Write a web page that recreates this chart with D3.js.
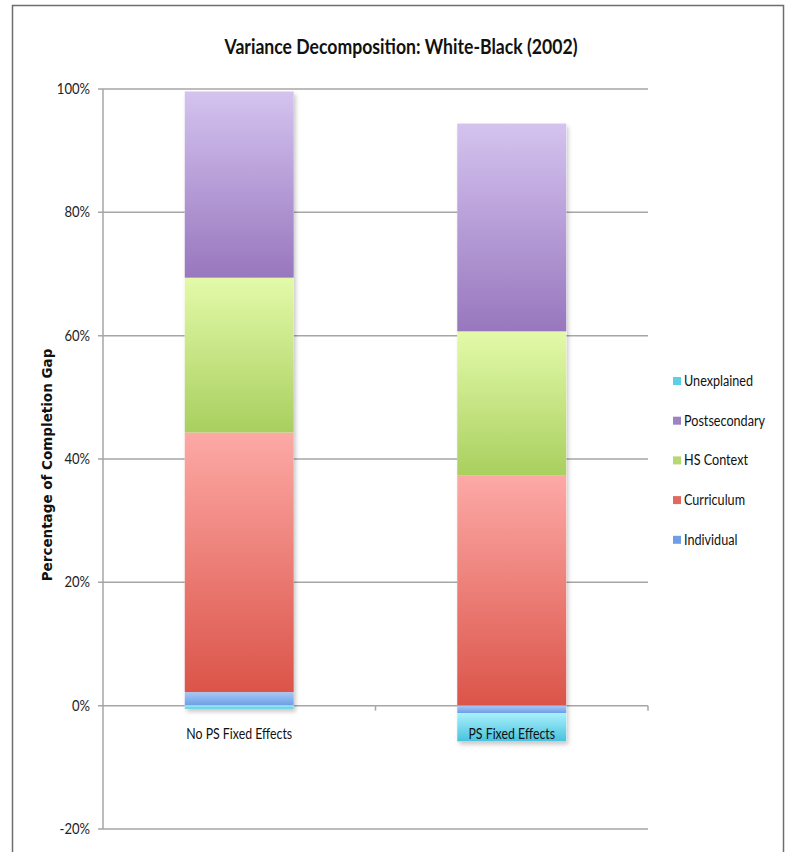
<!DOCTYPE html>
<html>
<head>
<meta charset="utf-8">
<script src="https://cdn.jsdelivr.net/npm/d3@7"></script>
<style>
  html, body { margin: 0; padding: 0; background: #fff; }
  svg { display: block; }
  .narrow { font-family: "Lato", "Liberation Sans", sans-serif; }
</style>
</head>
<body>
<svg id="chart" width="788" height="852"></svg>
<script>
// Decomposition of the White-Black completion gap, in percent
const categories = ["No PS Fixed Effects", "PS Fixed Effects"];
const seriesNames = ["Individual", "Curriculum", "HS Context", "Postsecondary", "Unexplained"];
const individual    = [2.2, -1.2];
const curriculum    = [42.1, 37.3];
const hsContext     = [25.1, 23.4];
const postsecondary = [30.2, 33.7];
const unexplained   = [-0.5, -4.6];
const yTicks = [-20, 0, 20, 40, 60, 80, 100];
const legendOrder = ["Unexplained", "Postsecondary", "HS Context", "Curriculum", "Individual"];

// light (top) and dark (bottom) stop of each series' vertical gradient
const gradStops = {
  "Individual":    ["#a7c8f6", "#6b9ee6"],
  "Curriculum":    ["#fda9a6", "#db5449"],
  "HS Context":    ["#e3faa9", "#a9cf5f"],
  "Postsecondary": ["#d4c3ef", "#9877be"],
  "Unexplained":   ["#a9f0fc", "#48c2dd"]
};
const legendSwatch = {
  "Individual": "#6d9ee6", "Curriculum": "#e06a60", "HS Context": "#b6d872",
  "Postsecondary": "#9d83c4", "Unexplained": "#5cd0e6"
};

const rows = categories.map((c, i) => ({
  category: c,
  "Individual": individual[i],
  "Curriculum": curriculum[i],
  "HS Context": hsContext[i],
  "Postsecondary": postsecondary[i],
  "Unexplained": unexplained[i]
}));

// squeeze text horizontally for a condensed look
function condense(sel, factor) {
  sel.each(function () {
    const w = this.getComputedTextLength();
    d3.select(this).attr("textLength", w * factor).attr("lengthAdjust", "spacingAndGlyphs");
  });
}

const svg = d3.select("#chart");
const defs = svg.append("defs");

const plot = { left: 103, right: 648, top: 89, bottom: 829 };

// outer chart frame
svg.append("rect")
  .attr("x", 12.5).attr("y", 5.5)
  .attr("width", 771).attr("height", 870)
  .attr("fill", "#fff").attr("stroke", "#6e6e6e").attr("stroke-width", 1.5);

const x = d3.scaleBand().domain(categories).range([plot.left, plot.right]).paddingInner(0.6).paddingOuter(0.3);
const y = d3.scaleLinear().domain([-20, 100]).range([plot.bottom, plot.top]);

// gradients
seriesNames.forEach((name, k) => {
  const g = defs.append("linearGradient").attr("id", "grad" + k)
    .attr("x1", 0).attr("y1", 0).attr("x2", 0).attr("y2", 1);
  g.append("stop").attr("offset", "0%").attr("stop-color", gradStops[name][0]);
  g.append("stop").attr("offset", "100%").attr("stop-color", gradStops[name][1]);
});
const shadow = defs.append("filter").attr("id", "shadow")
  .attr("x", "-10%").attr("y", "-10%").attr("width", "130%").attr("height", "130%");
shadow.append("feDropShadow").attr("dx", 2).attr("dy", 3).attr("stdDeviation", 2)
  .attr("flood-color", "#000").attr("flood-opacity", 0.22);

// horizontal gridlines
const grid = svg.append("g");
grid.selectAll("line").data(yTicks).join("line")
  .attr("x1", plot.left - 5).attr("x2", plot.right)
  .attr("y1", d => y(d)).attr("y2", d => y(d))
  .attr("stroke", "#a6a6a6").attr("stroke-width", 1.5);

// y axis line
svg.append("line")
  .attr("x1", plot.left).attr("x2", plot.left)
  .attr("y1", y(100)).attr("y2", y(-20))
  .attr("stroke", "#a6a6a6").attr("stroke-width", 1.5);

// y tick labels
svg.append("g").selectAll("text").data(yTicks).join("text")
  .attr("class", "narrow")
  .attr("x", plot.left - 13).attr("y", d => y(d))
  .attr("dy", "0.35em").attr("text-anchor", "end")
  .attr("font-size", 14.5).attr("fill", "#222")
  .text(d => d + "%")
  .call(condense, 0.9);

// category boundary ticks on the zero line
const bounds = [(plot.left + plot.right) / 2, plot.right];
svg.append("g").selectAll("line").data(bounds).join("line")
  .attr("x1", d => d).attr("x2", d => d)
  .attr("y1", y(0)).attr("y2", y(0) + 5)
  .attr("stroke", "#a6a6a6").attr("stroke-width", 1.5);

// stacked bars
const stack = d3.stack().keys(seriesNames).offset(d3.stackOffsetDiverging);
const layers = stack(rows);

const barsG = svg.append("g");
// shadow under each whole bar
barsG.selectAll("rect.sh").data(rows).join("rect")
  .attr("class", "sh")
  .attr("x", d => x(d.category))
  .attr("width", x.bandwidth())
  .attr("y", (d, i) => y(d3.max(layers, l => l[i][1])))
  .attr("height", (d, i) => y(d3.min(layers, l => l[i][0])) - y(d3.max(layers, l => l[i][1])))
  .attr("fill", "#fff").attr("filter", "url(#shadow)");

layers.forEach((layer, k) => {
  barsG.append("g").selectAll("rect").data(layer).join("rect")
    .attr("x", d => x(d.data.category))
    .attr("width", x.bandwidth())
    .attr("y", d => y(Math.max(d[0], d[1])))
    .attr("height", d => Math.abs(y(d[0]) - y(d[1])))
    .attr("fill", "url(#grad" + k + ")");
});

// category labels
svg.append("g").selectAll("text").data(categories).join("text")
  .attr("class", "narrow")
  .attr("x", d => x(d) + x.bandwidth() / 2)
  .attr("y", y(0) + 33)
  .attr("text-anchor", "middle")
  .attr("font-size", 14.5).attr("fill", "#111")
  .text(d => d)
  .call(condense, 0.85);

// title
svg.append("text")
  .attr("class", "narrow")
  .attr("x", 401).attr("y", 54)
  .attr("text-anchor", "middle")
  .attr("font-size", 21).attr("font-weight", "bold").attr("fill", "#111")
  .text("Variance Decomposition: White-Black (2002)")
  .attr("textLength", 353).attr("lengthAdjust", "spacingAndGlyphs");

// y axis title
svg.append("text")
  .attr("transform", "translate(52," + 465 + ") rotate(-90)")
  .attr("text-anchor", "middle")
  .attr("font-family", "DejaVu Sans, sans-serif")
  .attr("font-size", 13.5).attr("font-weight", "bold").attr("fill", "#111")
  .text("Percentage of Completion Gap");

// legend
const legend = svg.append("g").attr("transform", "translate(673,377)");
const li = legend.selectAll("g").data(legendOrder).join("g")
  .attr("transform", (d, i) => "translate(0," + i * 39.7 + ")");
li.append("rect").attr("width", 8).attr("height", 8).attr("fill", d => legendSwatch[d]);
li.append("text")
  .attr("class", "narrow")
  .attr("x", 11).attr("y", 4).attr("dy", "0.35em")
  .attr("font-size", 14.5).attr("fill", "#111")
  .text(d => d)
  .call(condense, 0.87);
</script>
</body>
</html>
